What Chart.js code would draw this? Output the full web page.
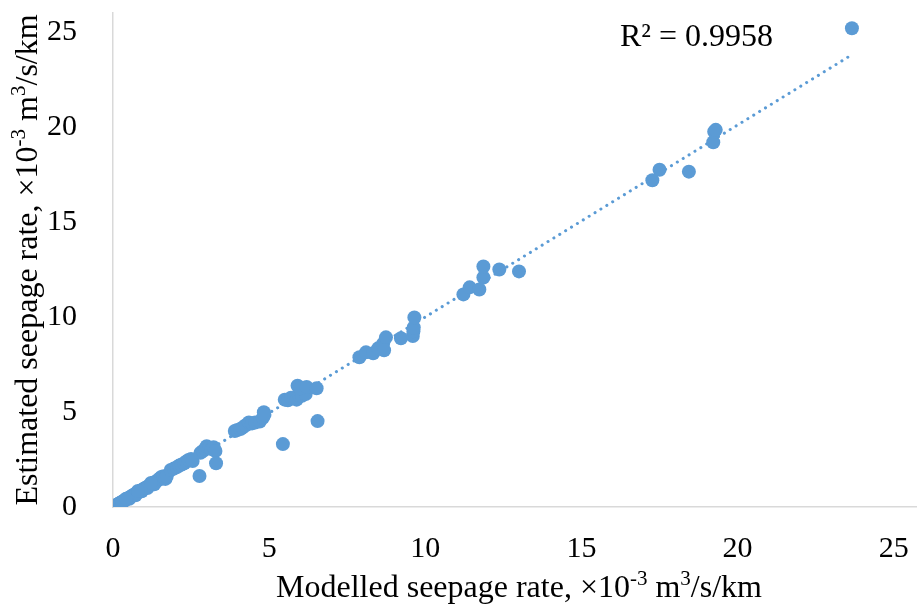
<!DOCTYPE html>
<html>
<head>
<meta charset="utf-8">
<script src="https://cdn.jsdelivr.net/npm/chart.js@4.4.1/dist/chart.umd.min.js"></script>
<style>
  html, body { margin: 0; padding: 0; background: #fff; overflow: hidden; }
  #wrap { width: 917px; height: 606px; overflow: hidden; }
</style>
</head>
<body>
<div id="wrap"><canvas id="chart" width="932" height="606"></canvas></div>
<script>
// Modelled seepage rate (x) and estimated seepage rate (y), x10^-3 m3/s/km
const modelled = [
  0.00, 0.02, 0.04, 0.06, 0.08, 0.10, 0.13, 0.16, 0.19, 0.22,
  0.25, 0.29, 0.33, 0.37, 0.41, 0.45, 0.50, 0.55, 0.60, 0.65,
  0.70, 0.76, 0.82, 0.88, 0.94, 1.00, 1.06, 1.12, 1.18, 1.24,
  1.30, 1.38, 1.45, 1.50, 1.55, 1.60, 1.62,
  0.30, 0.52, 0.72, 0.92, 1.10, 1.32, 0.42, 0.80, 1.22, 1.68, 1.72,
  1.85, 1.95, 2.05, 2.12, 2.20, 2.28, 2.35, 2.42, 2.50, 2.55,
  2.77,
  2.80, 2.88, 2.95, 3.00, 3.08, 3.15, 3.22, 3.28, 3.30,
  3.90, 3.98, 4.08, 4.15, 4.25, 4.35, 4.45, 4.55, 4.70, 4.80, 4.83, 4.85,
  5.44, 5.50, 5.60, 5.70, 5.80, 5.88, 5.95, 6.05, 6.17, 5.91, 6.00, 6.20, 6.52, 6.55,
  7.89, 8.10, 8.33, 8.49, 8.65, 8.74, 8.68, 9.22, 9.60, 9.62, 9.63, 9.65,
  11.22, 11.42, 11.73, 11.86, 11.86, 12.37, 13.00,
  17.27, 17.50, 18.44, 19.22, 19.25, 19.30,
  23.66
];
const estimated = [
  0.00, 0.02, 0.03, 0.05, 0.08, 0.09, 0.12, 0.14, 0.18, 0.20,
  0.24, 0.27, 0.31, 0.35, 0.39, 0.44, 0.47, 0.53, 0.58, 0.63,
  0.67, 0.74, 0.79, 0.85, 0.91, 0.97, 1.03, 1.08, 1.15, 1.21,
  1.27, 1.36, 1.42, 1.50, 1.58, 1.50, 1.62,
  0.22, 0.43, 0.62, 0.83, 1.00, 1.20, 0.44, 0.84, 1.26, 1.48, 1.62,
  1.95, 2.02, 2.10, 2.18, 2.24, 2.30, 2.40, 2.48, 2.52, 2.42,
  1.63,
  2.85, 2.95, 3.05, 3.20, 3.12, 3.05, 3.15, 2.95, 2.30,
  4.00, 4.05, 4.10, 4.18, 4.30, 4.45, 4.40, 4.45, 4.50, 4.70, 4.99, 4.85,
  3.31, 5.65, 5.62, 5.75, 5.72, 5.65, 5.90, 5.85, 5.95, 6.38, 6.25, 6.32, 6.25, 4.52,
  7.88, 8.14, 8.09, 8.35, 8.60, 8.93, 8.25, 8.88, 9.00, 9.25, 9.45, 9.98,
  11.19, 11.56, 11.45, 12.08, 12.66, 12.50, 12.40,
  17.20, 17.75, 17.65, 19.20, 19.75, 19.85,
  25.20
];
const tickValues = [0, 5, 10, 15, 20, 25];
const rSquaredLabel = 'R\u00B2 = 0.9958';

const xTitleParts = [
  { t: 'Modelled seepage rate, \u00D710' }, { t: '-3', sup: true },
  { t: ' m' }, { t: '3', sup: true }, { t: '/s/km' }
];
const yTitleParts = [
  { t: 'Estimated seepage rate, \u00D710' }, { t: '-3', sup: true },
  { t: ' m' }, { t: '3', sup: true }, { t: '/s/km' }
];

const BLUE = '#5b9bd5';
const AXIS = '#d9d9d9';
const FONT = '"Liberation Serif", "Times New Roman", serif';
const TICK_FS = 30;
const FS = 32;

const points = modelled.map((x, i) => ({ x, y: estimated[i] }));

// linear trendline (least squares) over the data range
const n = modelled.length;
const mx = modelled.reduce((a, b) => a + b, 0) / n;
const my = estimated.reduce((a, b) => a + b, 0) / n;
let sxy = 0, sxx = 0;
modelled.forEach((x, i) => { sxy += (x - mx) * (estimated[i] - my); sxx += (x - mx) * (x - mx); });
const slope = sxy / sxx;
const icpt = my - slope * mx;
const xMin = Math.min(...modelled), xMax = Math.max(...modelled);
const trend = [{ x: xMin, y: slope * xMin + icpt }, { x: xMax, y: slope * xMax + icpt }];

function partsWidth(ctx, parts) {
  let w = 0;
  parts.forEach(p => {
    ctx.font = (p.sup ? Math.round(FS * 0.65) : FS) + 'px ' + FONT;
    w += ctx.measureText(p.t).width;
  });
  return w;
}
function drawParts(ctx, parts, x, y) {
  parts.forEach(p => {
    ctx.font = (p.sup ? Math.round(FS * 0.65) : FS) + 'px ' + FONT;
    ctx.fillText(p.t, x, p.sup ? y - FS * 0.36 : y);
    x += ctx.measureText(p.t).width;
  });
}

const titlesPlugin = {
  id: 'titles',
  afterDraw(chart) {
    const ctx = chart.ctx;
    const a = chart.chartArea;
    ctx.save();
    ctx.fillStyle = '#000';
    ctx.textBaseline = 'alphabetic';
    ctx.textAlign = 'left';
    // x title
    const wx = partsWidth(ctx, xTitleParts);
    drawParts(ctx, xTitleParts, (a.left + a.right) / 2 - wx / 2, 597);
    // y title
    const wy = partsWidth(ctx, yTitleParts);
    ctx.save();
    ctx.translate(37, (a.top + a.bottom) / 2);
    ctx.rotate(-Math.PI / 2);
    drawParts(ctx, yTitleParts, -wy / 2, 0);
    ctx.restore();
    // R squared label
    ctx.font = FS + 'px ' + FONT;
    ctx.fillText(rSquaredLabel, 620, 46);
    ctx.restore();
  }
};

new Chart(document.getElementById('chart'), {
  type: 'scatter',
  data: {
    datasets: [
      {
        label: 'Seepage',
        data: points,
        backgroundColor: BLUE,
        borderWidth: 0,
        pointRadius: 7,
        pointHoverRadius: 7
      },
      {
        type: 'line',
        label: 'Linear trend',
        data: trend,
        borderColor: BLUE,
        borderWidth: 3,
        borderDash: [0.1, 6.8],
        borderCapStyle: 'round',
        pointRadius: 0,
        fill: false
      }
    ]
  },
  options: {
    responsive: false,
    animation: false,
    layout: { padding: { top: 13, right: 1, left: 0, bottom: 0 } },
    plugins: {
      legend: { display: false },
      tooltip: { enabled: false }
    },
    scales: {
      x: {
        type: 'linear',
        min: 0,
        max: 26,
        afterFit: s => { s.height = 99; s.paddingLeft = 0; s.paddingRight = 0; },
        afterBuildTicks: s => { s.ticks = tickValues.map(v => ({ value: v })); },
        grid: { display: false },
        border: { display: true, color: AXIS, width: 1.5 },
        ticks: { color: '#000', padding: 16, font: { family: FONT, size: TICK_FS } }
      },
      y: {
        type: 'linear',
        min: 0,
        max: 26,
        afterFit: s => { s.width = 113; s.paddingTop = 0; s.paddingBottom = 0; },
        afterBuildTicks: s => { s.ticks = tickValues.map(v => ({ value: v })); },
        grid: { display: false },
        border: { display: true, color: AXIS, width: 1.5 },
        ticks: { color: '#000', padding: 28, font: { family: FONT, size: TICK_FS } }
      }
    }
  },
  plugins: [titlesPlugin]
});
</script>
</body>
</html>
